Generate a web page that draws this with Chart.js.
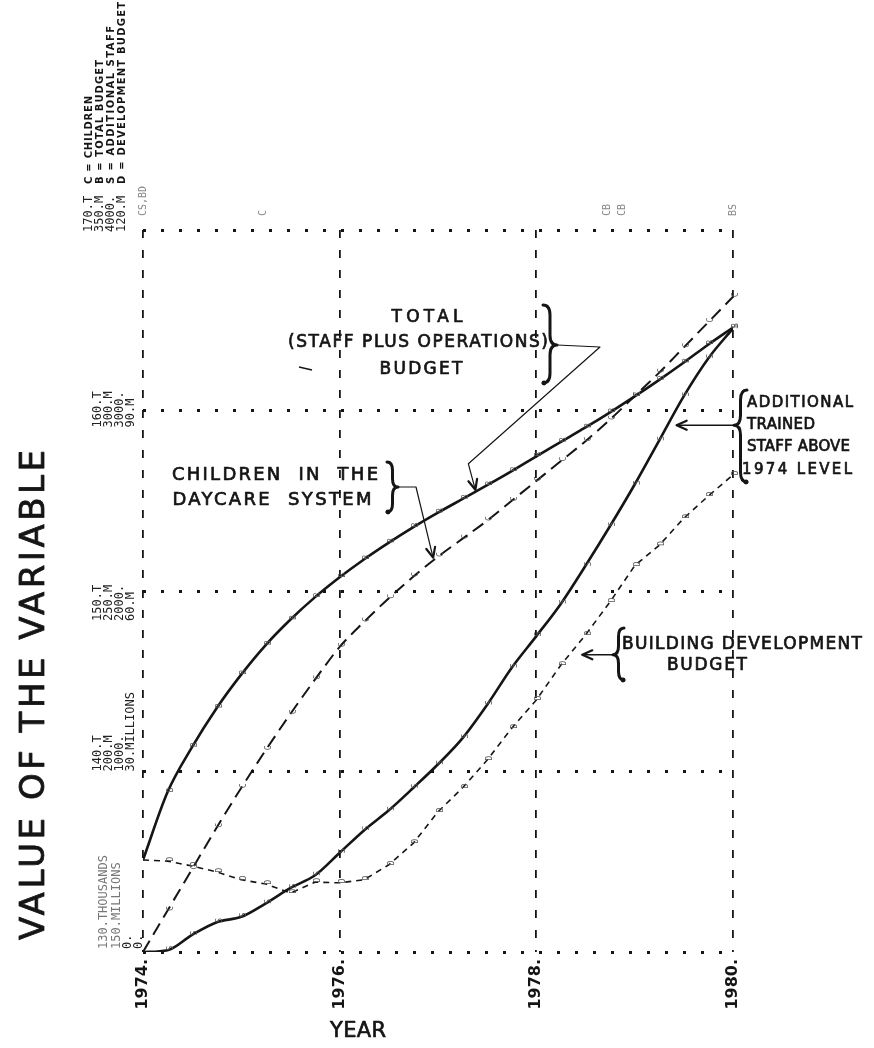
<!DOCTYPE html>
<html>
<head>
<meta charset="utf-8">
<script src="https://cdn.jsdelivr.net/npm/chart.js@4.4.1/dist/chart.umd.min.js"></script>
<style>
  html, body { margin: 0; padding: 0; background: #ffffff; }
  #wrap { width: 874px; height: 1048px; }
</style>
</head>
<body>
<div id="wrap"><canvas id="plot" width="874" height="1048"></canvas></div>
<script>
// ---- data ---------------------------------------------------------------
const years = [1974.00, 1974.25, 1974.50, 1974.75, 1975.00, 1975.25, 1975.50, 1975.75,
               1976.00, 1976.25, 1976.50, 1976.75, 1977.00, 1977.25, 1977.50, 1977.75,
               1978.00, 1978.25, 1978.50, 1978.75, 1979.00, 1979.25, 1979.50, 1979.75, 1980.00];

// C: children in the daycare system (thousands)
const children = [130.0, 132.3, 134.6, 136.9, 139.1, 141.2, 143.2, 145.1,
                  146.9, 148.3, 149.6, 150.8, 151.9, 152.9, 153.9, 155.0,
                  156.1, 157.2, 158.3, 159.5, 160.8, 162.1, 163.5, 164.9, 166.3];
// B: total (staff plus operations) budget (millions)
const totalBudget = [175.5, 194.3, 206.8, 217.6, 226.9, 235.1, 242.1, 248.3,
                     253.8, 258.8, 263.4, 267.7, 271.7, 275.5, 279.3, 283.2,
                     287.3, 291.3, 295.3, 299.5, 303.9, 308.5, 313.3, 318.3, 323.0];
// S: additional trained staff above the 1974 level
const addedStaff = [0, 10, 95, 165, 195, 270, 355, 425,
                    550, 675, 785, 910, 1040, 1185, 1370, 1575,
                    1750, 1930, 2140, 2360, 2590, 2835, 3080, 3290, 3455];
// D: building development budget (millions)
const devBudget = [15.3, 15.1, 14.3, 13.3, 12.0, 11.3, 9.8, 11.6,
                   11.5, 12.0, 14.5, 18.1, 23.3, 27.3, 31.9, 37.2,
                   41.9, 47.7, 52.7, 58.2, 64.2, 67.6, 72.1, 75.8, 79.3];

// axis ranges and printed scale labels
const yearTicks   = [1974, 1976, 1978, 1980];
const childRange  = [130, 170];
const budgetRange = [150, 350];
const staffRange  = [0, 4000];
const devRange    = [0, 120];
const childTicks  = ['130.THOUSANDS', '140.T', '150.T', '160.T', '170.T'];
const budgetTicks = ['150.MILLIONS', '200.M', '250.M', '300.M', '350.M'];
const staffTicks  = ['0.', '1000.', '2000.', '3000.', '4000.'];
const devTicks    = ['0.', '30.MILLIONS', '60.M', '90.M', '120.M'];
const keyLines    = ['C = CHILDREN', 'B = TOTAL BUDGET', 'S = ADDITIONAL STAFF', 'D = DEVELOPMENT BUDGET'];

// symbols printed in the top margin where plotted letters collide
const clashYears = [1974.0, 1975.22, 1978.72, 1978.88, 1980.0];
const clashText  = ['CS,BD', 'C', 'CB', 'CB', 'BS'];

// ---- helpers ------------------------------------------------------------
const INK = '#151515';
const HAND = '"DejaVu Sans", "Open Sans", sans-serif';
const MONO = '"DejaVu Sans Mono", "Liberation Mono", monospace';

const series = {
  C: { values: children,    axis: 'yC' },
  B: { values: totalBudget, axis: 'yB' },
  S: { values: addedStaff,  axis: 'yS' },
  D: { values: devBudget,   axis: 'yD' }
};

function pts(values) { return years.map((t, i) => ({ x: t, y: values[i] })); }

function valueAt(values, t) {
  for (let i = 0; i < years.length - 1; i++) {
    if (t >= years[i] && t <= years[i + 1]) {
      const f = (t - years[i]) / (years[i + 1] - years[i]);
      return values[i] + f * (values[i + 1] - values[i]);
    }
  }
  return values[values.length - 1];
}

function pointOn(chart, key, t) {
  const s = series[key];
  return { x: chart.scales.x.getPixelForValue(t),
           y: chart.scales[s.axis].getPixelForValue(valueAt(s.values, t)) };
}

// text fitted to a given length, optionally turned to read upward
function fitText(ctx, text, x, y, len, font, o = {}) {
  ctx.save();
  ctx.font = font;
  ctx.fillStyle = o.color || INK;
  ctx.strokeStyle = o.color || INK;
  ctx.letterSpacing = '0px';
  const n = [...text].length;
  const w0 = ctx.measureText(text).width;
  const sp = len && n > 1 ? (len - w0) / (n - 1) : 0;
  ctx.letterSpacing = sp + 'px';
  const w = len || w0;
  ctx.translate(x, y);
  if (o.up) ctx.rotate(-Math.PI / 2);
  ctx.textBaseline = 'middle';
  ctx.textAlign = 'left';
  const start = o.align === 'start' ? 0 : -w / 2;
  ctx.fillText(text, start, 0);
  if (o.stroke) { ctx.lineWidth = o.stroke; ctx.lineJoin = 'round'; ctx.strokeText(text, start, 0); }
  ctx.restore();
}

function arrow(ctx, path, width) {
  ctx.save();
  ctx.strokeStyle = INK; ctx.fillStyle = INK;
  ctx.lineWidth = width || 1.3; ctx.lineJoin = 'round'; ctx.lineCap = 'round';
  ctx.beginPath();
  ctx.moveTo(path[0].x, path[0].y);
  for (let i = 1; i < path.length; i++) ctx.lineTo(path[i].x, path[i].y);
  ctx.stroke();
  const a = path[path.length - 2], b = path[path.length - 1];
  const ang = Math.atan2(b.y - a.y, b.x - a.x);
  const L = 11, W = 0.42;
  ctx.lineWidth = 2.2;
  ctx.beginPath();
  ctx.moveTo(b.x - L * Math.cos(ang - W), b.y - L * Math.sin(ang - W));
  ctx.lineTo(b.x, b.y);
  ctx.lineTo(b.x - L * Math.cos(ang + W), b.y - L * Math.sin(ang + W));
  ctx.stroke();
  ctx.restore();
}

// curly brace from y1 to y2 with its point at tipY; dir = 1 points right, -1 left
function brace(ctx, x, y1, y2, tipY, dir, w) {
  const h = w / 2, r = Math.min(10, (y2 - y1) / 6);
  ctx.save();
  ctx.strokeStyle = INK; ctx.lineWidth = 3; ctx.lineCap = 'round'; ctx.lineJoin = 'round';
  ctx.beginPath();
  ctx.moveTo(x, y1);
  ctx.quadraticCurveTo(x + dir * h, y1, x + dir * h, y1 + r);
  ctx.lineTo(x + dir * h, tipY - r);
  ctx.quadraticCurveTo(x + dir * h, tipY, x + dir * w, tipY);
  ctx.quadraticCurveTo(x + dir * h, tipY, x + dir * h, tipY + r);
  ctx.lineTo(x + dir * h, y2 - r);
  ctx.quadraticCurveTo(x + dir * h, y2, x, y2);
  ctx.stroke();
  ctx.beginPath();
  ctx.arc(x + 1 * dir, y2, 2.4, 0, Math.PI * 2);
  ctx.fillStyle = INK; ctx.fill();
  ctx.restore();
  return { x: x + dir * w, y: tipY };
}

// ---- drawing of labels, keys and callouts --------------------------------
const decorations = {
  id: 'decorations',
  afterDatasetsDraw(chart) {
    const ctx = chart.ctx;
    // small plotted symbols along each curve
    chart.data.datasets.forEach((ds, di) => {
      const meta = chart.getDatasetMeta(di);
      ctx.save();
      ctx.font = '8px ' + MONO;
      ctx.fillStyle = '#555';
      ctx.textAlign = 'center'; ctx.textBaseline = 'middle';
      meta.data.forEach((el, i) => {
        if (i === 0) return;
        ctx.save();
        ctx.translate(el.x + 3, el.y - 2);
        ctx.rotate(-Math.PI / 2);
        ctx.fillText(ds.symbol, 0, 0);
        ctx.restore();
      });
      ctx.restore();
    });
  },
  afterDraw(chart) {
    const ctx = chart.ctx;
    const xs = chart.scales.x;

    // printed scale labels, one column per variable, at each grid line
    const cols = [childTicks, budgetTicks, staffTicks, devTicks];
    const colX = [[104, 117, 128, 139], [98, 109, 120, 131], [98, 109, 120, 131], [98, 109, 120, 131], [89, 100, 111, 122]];
    const rowShift = [-3, 0, 30, 17, 2];
    cols.forEach((labels, c) => {
      labels.forEach((txt, r) => {
        const y = chart.scales.yC.getPixelForValue(childRange[0] + r * (childRange[1] - childRange[0]) / (labels.length - 1)) + rowShift[r];
        const faint = r === 0 && c < 2;
        fitText(ctx, txt, colX[r][c], y, 0, '12px ' + MONO, { up: true, align: 'start', color: faint ? '#777' : '#222' });
      });
    });

    // hand-lettered key above the top scale
    const keyX = colX[4];
    const keyLen = [88, 124, 158, 182];
    keyLines.forEach((k, i) => {
      fitText(ctx, k, keyX[i], 184, keyLen[i], 'bold 10px ' + HAND, { up: true, align: 'start' });
    });

    // collision symbols in the top margin
    clashText.forEach((t, i) => {
      fitText(ctx, t, xs.getPixelForValue(clashYears[i]), 216, 0, '10px ' + MONO, { up: true, align: 'start', color: '#888' });
    });

    // axis titles
    const pen = { stroke: 0.7 };
    fitText(ctx, 'VALUE OF THE VARIABLE', 35, 695, 490, '34px ' + HAND, { up: true, stroke: 0.8 });
    fitText(ctx, 'YEAR', 358, 1032, 56, '21px ' + HAND, pen);

    // total budget callout
    fitText(ctx, 'TOTAL', 427, 318, 71, '17px ' + HAND, pen);
    fitText(ctx, '(STAFF PLUS OPERATIONS)', 418, 343, 260, '17px ' + HAND, pen);
    fitText(ctx, 'BUDGET', 421, 370, 83, '17px ' + HAND, pen);
    const bt = brace(ctx, 543, 305, 383, 345, 1, 14);
    const bTip = pointOn(chart, 'B', 1977.38);
    arrow(ctx, [bt, { x: 600, y: bt.y + 2 }, { x: bTip.x - 7, y: bTip.y - 28 }, { x: bTip.x, y: bTip.y - 2 }], 1.2);

    // children callout
    fitText(ctx, 'CHILDREN  IN  THE', 275, 475, 206, '18px ' + HAND, pen);
    fitText(ctx, 'DAYCARE  SYSTEM', 272, 500, 199, '18px ' + HAND, pen);
    const ct = brace(ctx, 387, 462, 512, 487, 1, 11);
    const cTip = pointOn(chart, 'C', 1976.95);
    arrow(ctx, [ct, { x: ct.x + 18, y: ct.y }, { x: cTip.x, y: cTip.y - 3 }], 1.2);

    // additional staff callout
    const sTip = pointOn(chart, 'S', 1979.335);
    fitText(ctx, 'ADDITIONAL', 747, 403, 106, '15px ' + HAND, { align: 'start', stroke: 0.7 });
    fitText(ctx, 'TRAINED', 747, 425, 68, '15px ' + HAND, { align: 'start', stroke: 0.7 });
    fitText(ctx, 'STAFF ABOVE', 747, 447, 103, '15px ' + HAND, { align: 'start', stroke: 0.7 });
    fitText(ctx, '1974 LEVEL', 742, 470, 110, '15px ' + HAND, { align: 'start', stroke: 0.7 });
    const st = brace(ctx, 747, 390, 482, sTip.y, -1, 13);
    arrow(ctx, [st, { x: sTip.x + 9, y: st.y }], 1.6);

    // building development callout
    const dTip = pointOn(chart, 'D', 1978.335);
    fitText(ctx, 'BUILDING DEVELOPMENT', 622, 645, 240, '17px ' + HAND, { align: 'start', stroke: 0.7 });
    fitText(ctx, 'BUDGET', 667, 666, 80, '17px ' + HAND, { align: 'start', stroke: 0.7 });
    const dt = brace(ctx, 624, 628, 680, dTip.y, -1, 11);
    arrow(ctx, [dt, { x: dTip.x + 13, y: dt.y }], 1.6);

    // stray pen stroke
    ctx.save();
    ctx.strokeStyle = INK; ctx.lineWidth = 1.4;
    ctx.beginPath(); ctx.moveTo(299, 367); ctx.lineTo(312, 370); ctx.stroke();
    ctx.restore();
  }
};

// ---- chart --------------------------------------------------------------
new Chart(document.getElementById('plot'), {
  type: 'line',
  data: {
    datasets: [
      { label: 'C', symbol: 'C', data: pts(children), yAxisID: 'yC',
        borderColor: INK, borderWidth: 2, borderDash: [13, 7],
        cubicInterpolationMode: 'monotone', pointRadius: 0, fill: false },
      { label: 'B', symbol: 'B', data: pts(totalBudget), yAxisID: 'yB',
        borderColor: INK, borderWidth: 2.6,
        cubicInterpolationMode: 'monotone', pointRadius: 0, fill: false },
      { label: 'S', symbol: 'S', data: pts(addedStaff), yAxisID: 'yS',
        borderColor: INK, borderWidth: 2.6,
        cubicInterpolationMode: 'monotone', pointRadius: 0, fill: false },
      { label: 'D', symbol: 'D', data: pts(devBudget), yAxisID: 'yD',
        borderColor: INK, borderWidth: 1.6, borderDash: [6, 5],
        tension: 0, pointRadius: 0, fill: false }
    ]
  },
  options: {
    responsive: false,
    animation: false,
    devicePixelRatio: 1,
    layout: { padding: { left: 143, right: 141, top: 230, bottom: 0 } },
    plugins: { legend: { display: false }, tooltip: { enabled: false } },
    scales: {
      x: {
        type: 'linear', min: yearTicks[0], max: yearTicks[yearTicks.length - 1],
        afterBuildTicks: s => { s.ticks = yearTicks.map(v => ({ value: v })); },
        afterFit: s => { s.height = 96; },
        ticks: {
          callback: v => v + '.', color: INK, padding: 7,
          minRotation: 90, maxRotation: 90, autoSkip: false,
          font: { family: 'DejaVu Sans', size: 16, weight: 'bold' }
        },
        grid: { color: INK, lineWidth: 1.8, drawTicks: false },
        border: { display: false, dash: [8, 12] }
      },
      yC: {
        type: 'linear', position: 'left', min: childRange[0], max: childRange[1],
        afterBuildTicks: s => { s.ticks = childTicks.map((t, i) => ({ value: childRange[0] + i * (childRange[1] - childRange[0]) / (childTicks.length - 1) })); },
        afterFit: s => { s.width = 0; },
        ticks: { display: false },
        grid: { color: INK, lineWidth: 3, drawTicks: false },
        border: { display: false, dash: [3, 15] }
      },
      yB: { type: 'linear', display: false, min: budgetRange[0], max: budgetRange[1] },
      yS: { type: 'linear', display: false, min: staffRange[0], max: staffRange[1] },
      yD: { type: 'linear', display: false, min: devRange[0], max: devRange[1] }
    }
  },
  plugins: [decorations]
});
</script>
</body>
</html>
